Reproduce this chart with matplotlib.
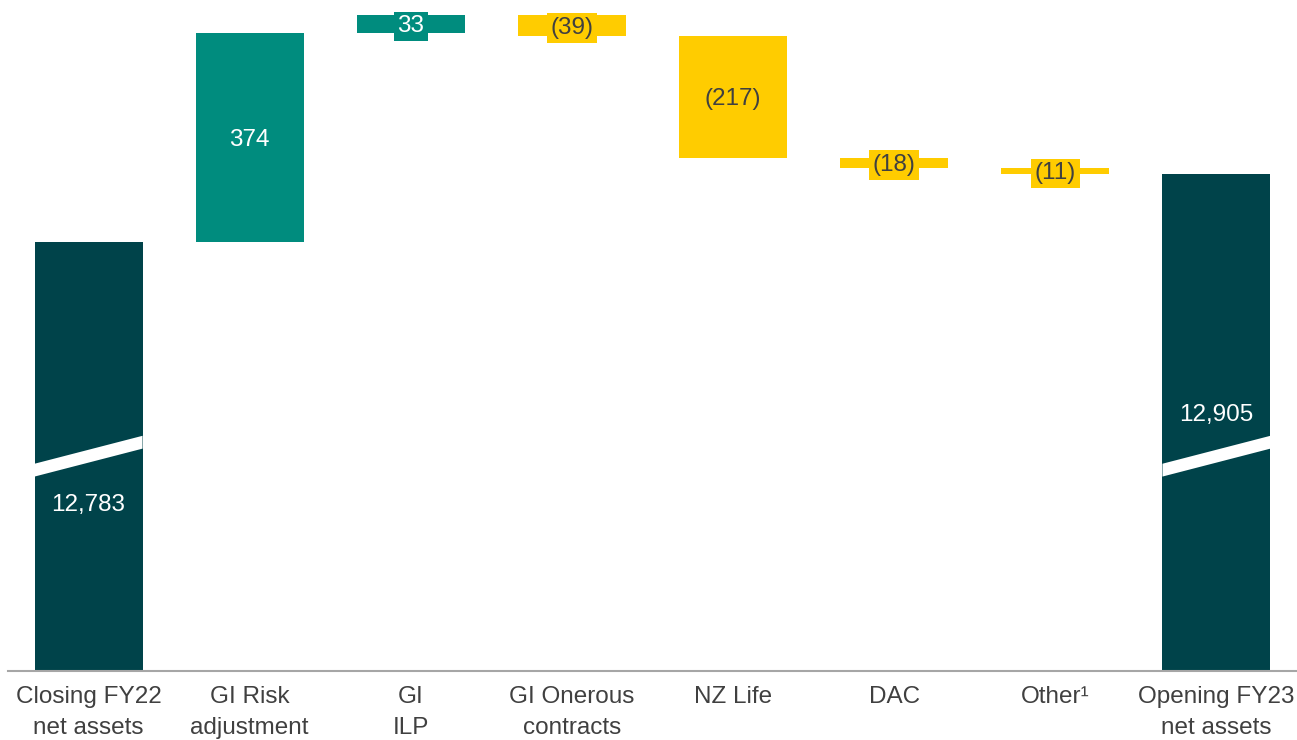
import matplotlib.pyplot as plt
from matplotlib.patches import Polygon

plt.rcParams['font.family'] = ['Liberation Sans', 'DejaVu Sans']

# --- Data ---
categories = ['Closing FY22\nnet assets', 'GI Risk\nadjustment', 'GI\nILP',
              'GI Onerous\ncontracts', 'NZ Life', 'DAC', 'Other\u00b9',
              'Opening FY23\nnet assets']
values = [12783, 374, 33, -39, -217, -18, -11, 12905]
value_labels = ['12,783', '374', '33', '(39)', '(217)', '(18)', '(11)', '12,905']
is_total = [True, False, False, False, False, False, False, True]

# --- Styles ---
DARK = '#00434A'
TEAL = '#008C7E'
YELLOW = '#FFCC00'
TEXT_DARK = '#404040'
Y_MIN, Y_MAX = 12015, 13216
BAR_W = 0.67
FS = 17.5

fig = plt.figure(figsize=(12.97, 7.40), dpi=100)
ax = fig.add_axes([8 / 1297, 69 / 740, 1289 / 1297, 671 / 740])

running = 0
for i, (v, lab, tot) in enumerate(zip(values, value_labels, is_total)):
    if tot:
        bottom, height, color, tcol = Y_MIN, v - Y_MIN, DARK, 'white'
        running = v
    else:
        if v >= 0:
            bottom, color, tcol = running, TEAL, 'white'
        else:
            bottom, color, tcol = running + v, YELLOW, TEXT_DARK
        height = abs(v)
        running += v
    ax.bar(i, height, bottom=bottom, width=BAR_W, color=color, zorder=2)

    if tot:
        continue
    ax.text(i, bottom + height / 2, lab, ha='center', va='center_baseline',
            fontsize=FS, color=tcol, zorder=4,
            bbox=dict(boxstyle='square,pad=0.15', fc=color, ec='none'))

# total labels and axis-break bands
ax.text(0, 12316, value_labels[0], ha='center', va='center_baseline', fontsize=FS,
        color='white', zorder=4)
ax.text(7, 12477, value_labels[7], ha='center', va='center_baseline', fontsize=FS,
        color='white', zorder=4)
for i in (0, 7):
    x0, x1 = i - BAR_W / 2, i + BAR_W / 2
    band = Polygon([(x0, 12363), (x1, 12413), (x1, 12436), (x0, 12386)],
                   closed=True, fc='white', ec='none', zorder=3)
    ax.add_patch(band)

ax.set_xlim(-0.5, 7.5)
ax.set_ylim(Y_MIN, Y_MAX)
ax.set_xticks(range(len(categories)))
ax.set_xticklabels(categories, fontsize=FS, color=TEXT_DARK, linespacing=1.5)
ax.tick_params(axis='x', length=0, pad=11)
ax.set_yticks([])
for s in ('top', 'right', 'left'):
    ax.spines[s].set_visible(False)
ax.spines['bottom'].set_color('#A6A6A6')
ax.spines['bottom'].set_linewidth(1.5)
ax.spines['bottom'].set_zorder(5)

fig.savefig('out.png', dpi=100)
